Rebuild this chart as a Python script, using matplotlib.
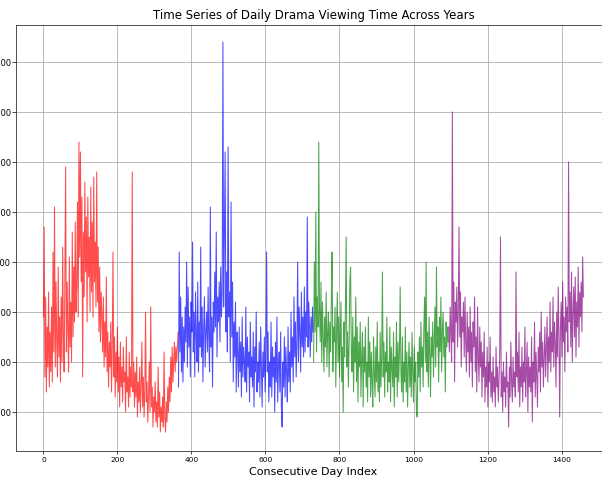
import numpy as np
import matplotlib
matplotlib.use("Agg")
import matplotlib.pyplot as plt

# Daily viewing time, sampled every second day, one list per year
year1 = [2900, 4700, 1700, 3300, 1400, 2700, 1900, 3400, 1500, 2600,
         1800, 3100, 1600, 4200, 2200, 5100, 1900, 3600, 2400, 1700,
         3900, 2100, 2900, 1600, 3300, 2000, 4300, 2500, 1800, 3700,
         5900, 2200, 3600, 2600, 1800, 4100, 2300, 3200, 2000, 4600,
         2500, 3900, 2800, 4800, 3000, 3500, 5200, 2900, 6400, 4100,
         6200, 3600, 5300, 1700, 4600, 3300, 5600, 3800, 4900, 2800,
         5300, 3700, 4500, 3000, 5500, 3400, 4800, 2900, 5700, 3600,
         4400, 3100, 5800, 3200, 4300, 2600, 3900, 2400, 3400, 2900,
         2200, 3300, 1900, 2800, 2100, 3700, 1800, 2600, 1500, 2400,
         1900, 2800, 1400, 2300, 4200, 1700, 2500, 1300, 2200, 1600,
         2700, 1400, 2100, 1100, 2400, 1500, 1900, 1200, 2300, 1600,
         1800, 1000, 2500, 1400, 1700, 1100, 2200, 1300, 1900, 1500,
         5800, 1400, 2000, 1100, 1800, 1300, 2100, 900, 1600, 1200,
         1900, 1000, 1500, 2400, 1100, 1700, 900, 1400, 3000, 1200,
         1600, 800, 1300, 2000, 1000, 3100, 1100, 1500, 700, 1300,
         1000, 1600, 800, 1200, 700, 1900, 900, 1400, 600, 1100,
         800, 1300, 700, 2200, 900, 600, 1200, 800, 1500, 1000,
         1700, 1200, 2100, 1400, 2300, 1600, 2000, 2400, 1800, 2300,
         2000, 2300, 2600]
year2 = [1500, 4200, 2200, 3300, 1800, 2900, 1600, 2700, 2000, 3100,
         2400, 4000, 1900, 3500, 2300, 2900, 1700, 3200, 2600, 4400,
         2200, 3000, 1700, 3400, 2500, 2000, 3600, 1800, 2800, 2300,
         4300, 2100, 3100, 1600, 2700, 3300, 1900, 2600, 3000, 2200,
         3500, 2400, 1800, 5100, 2300, 2900, 1500, 3200, 2600, 3800,
         2700, 4600, 2100, 3300, 2800, 3600, 2400, 3900, 2900, 3400,
         8400, 3100, 4500, 6200, 2600, 3800, 2200, 6300, 2900, 3400,
         2000, 5200, 2500, 3600, 1600, 2800, 2100, 3200, 1400, 2600,
         2200, 1500, 2700, 1800, 2400, 1300, 2900, 1700, 2300, 2000,
         1600, 3100, 1400, 2500, 1900, 2200, 1200, 2800, 1700, 2100,
         1500, 2600, 1100, 2300, 1800, 3000, 1400, 2000, 1600, 2400,
         1300, 2700, 1900, 1100, 2200, 1700, 2500, 1400, 2100, 4200,
         1800, 2600, 1200, 2000, 1500, 2800, 1300, 2300, 1700, 2100,
         1000, 2400, 1600, 2900, 1200, 1900, 2200, 1400, 2600, 1100,
         700, 2000, 1500, 2500, 1300, 2300, 1800, 1200, 2700, 1600,
         2200, 1400, 3000, 1900, 2500, 1600, 3300, 2100, 2800, 1700,
         2400, 4000, 2000, 3100, 2600, 1800, 3400, 2300, 2900, 2100,
         3500, 2200, 3000, 2500, 4900, 2300, 3200, 2700, 2100, 2900,
         2400, 3100, 2600]
year3 = [2000, 4000, 2600, 5000, 2200, 3300, 2700, 6400, 3000, 2400,
         3600, 2000, 3200, 2500, 1800, 2900, 2300, 3400, 1900, 2600,
         3000, 1700, 2800, 2200, 3300, 4200, 1800, 2700, 2400, 3100,
         1500, 2600, 3400, 2000, 2900, 1700, 2500, 3200, 1600, 2300,
         1000, 2800, 2100, 3100, 4500, 1900, 2600, 1500, 2400, 3600,
         3900, 2200, 1800, 2900, 1400, 2500, 2000, 3300, 1600, 2700,
         1200, 2400, 1900, 2800, 1300, 2100, 2600, 1100, 2300, 1800,
         2700, 1500, 2000, 1200, 2900, 1700, 2400, 1300, 2200, 1600,
         1100, 2500, 1800, 1300, 2300, 1600, 2800, 1400, 2000, 1200,
         2600, 1500, 2100, 3800, 1700, 2400, 1300, 2200, 1800, 2900,
         1400, 2000, 1600, 2700, 1200, 2300, 1900, 1500, 2600, 1100,
         2100, 1700, 2800, 1300, 2400, 1600, 2200, 3500, 1800, 1400,
         2500, 1200, 2000, 1600, 2700, 1400, 2200, 1100, 1900, 2400,
         1500, 2100, 1300, 2600, 1800, 1200, 2300, 1600, 2000, 1000,
         900, 2200, 1700, 2500, 1400, 2800, 1900, 2300, 1500, 2700,
         3300, 2000, 4000, 1800, 2600, 1500, 2900, 2200, 1300, 2500,
         2100, 2800, 1700, 2400, 3100, 1900, 3900, 2300, 2700, 1600,
         2900, 2200, 3300, 1800, 2600, 3000, 2100, 2500, 1400, 2800,
         2300, 2700, 2400]
year4 = [2700, 2200, 3100, 2600, 2000, 7000, 2400, 3600, 1600, 3200,
         2800, 3500, 2300, 3000, 4700, 2500, 3400, 1900, 2900, 2600,
         3200, 2100, 3300, 2400, 1800, 3000, 2200, 2700, 1700, 3100,
         2000, 2600, 1500, 2800, 2300, 3300, 1800, 2500, 1400, 3100,
         2100, 1600, 2700, 1900, 2400, 1300, 2200, 1700, 2600, 1200,
         1900, 1500, 2300, 1100, 2000, 1600, 2500, 1300, 1800, 1200,
         2100, 1400, 1700, 1100, 2300, 1500, 1900, 1200, 1600, 2200,
         4500, 1300, 1800, 1000, 2000, 1400, 1700, 1100, 2200, 1500,
         1600, 700, 1900, 1300, 2400, 1600, 1200, 2100, 1500, 1800,
         1300, 3800, 1700, 2200, 1400, 2600, 1100, 1900, 1500, 2300,
         1200, 2000, 1600, 2700, 1300, 1800, 2400, 1000, 2100, 1500,
         1900, 1400, 2500, 800, 2000, 1600, 2800, 1300, 2200, 1700,
         1100, 2300, 1800, 2600, 1400, 3000, 1900, 2400, 1500, 2100,
         2700, 1700, 2300, 2900, 1600, 2500, 2000, 3200, 1800, 2600,
         2200, 3300, 1900, 2800, 2400, 1500, 3000, 2100, 3500, 2500,
         900, 2700, 3200, 2100, 3600, 2400, 2900, 1800, 3300, 2600,
         3100, 2200, 6000, 2800, 3400, 2300, 3800, 2000, 3000, 3500,
         2500, 3700, 2100, 3200, 2700, 3900, 2300, 3400, 2900, 3600,
         2600, 4100, 3300]

years = [year1, year2, year3, year4]
colors = ['red', 'blue', 'green', 'purple']
year_start = [0, 365, 730, 1095]

fig = plt.figure(figsize=(6.02, 4.84), dpi=100)
# axes runs slightly past the figure edges, like the cropped original
ax = fig.add_axes([16.4 / 602, 33 / 484, 594 / 602, 426 / 484])

for vals, c, start in zip(years, colors, year_start):
    days = start + np.arange(len(vals)) * 2
    ax.plot(days, vals, color=c, alpha=0.7, linewidth=0.75)

ax.set_xlim(-73, 1532)
ax.set_ylim(220, 8740)
ax.set_yticks([1000, 2000, 3000, 4000, 5000, 6000, 7000, 8000])
ax.set_xticks([0, 200, 400, 600, 800, 1000, 1200, 1400])

ax.set_title('Time Series of Daily Drama Viewing Time Across Years', fontsize=8.5, pad=4)
ax.set_xlabel('Consecutive Day Index', fontsize=8, labelpad=3)
ax.tick_params(labelsize=5.4, length=2.2, width=0.5, pad=2)
ax.tick_params(axis='y', labelsize=6, length=2.6, pad=1.2)
ax.grid(True, color='#b0b0b0', linewidth=0.6)
for s in ax.spines.values():
    s.set_linewidth(0.6)
    s.set_color('#333333')

fig.savefig('out.png', dpi=100)
